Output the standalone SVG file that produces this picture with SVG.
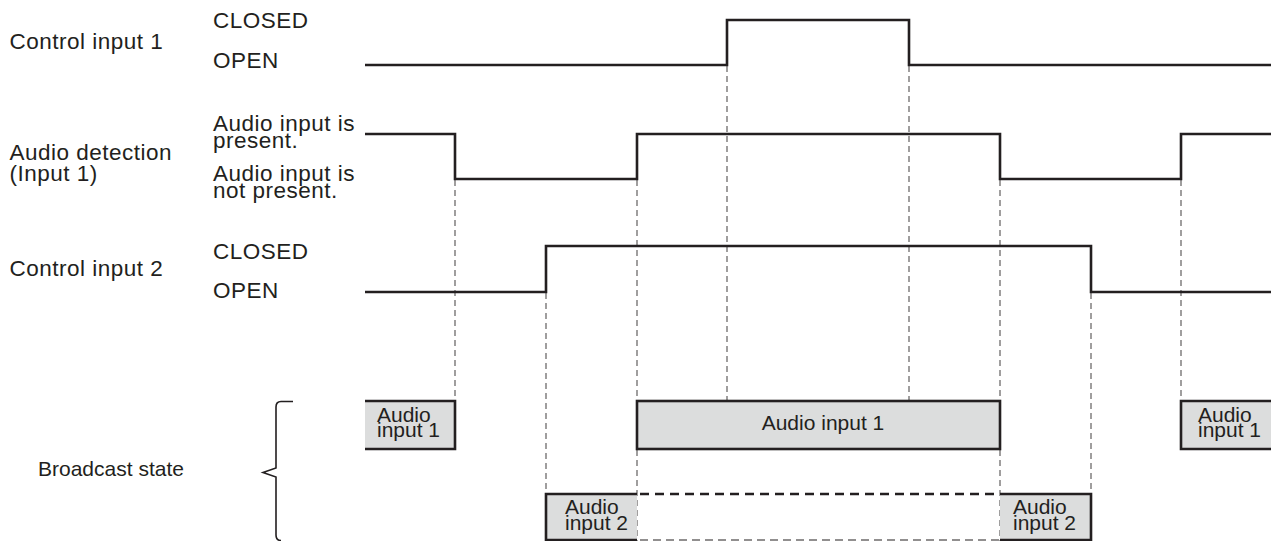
<svg xmlns="http://www.w3.org/2000/svg" width="1274" height="541" viewBox="0 0 1274 541">
<style>
text{font-family:"Liberation Sans",Arial,Helvetica,sans-serif;fill:#231f20}
.lbl{font-size:22.5px;letter-spacing:0.5px}
.bs{font-size:21px}
.bx{font-size:21px}
.sig{fill:none;stroke:#231f20;stroke-width:2.6;stroke-linejoin:miter}
.guide{fill:none;stroke:#6d6b6b;stroke-width:1.3;stroke-dasharray:6 4}
.fill{fill:#dcdddd;stroke:none}
.edge{fill:none;stroke:#231f20;stroke-width:2.6}
.dtop{fill:none;stroke:#231f20;stroke-width:2.6;stroke-dasharray:9 6}
.dbot{fill:none;stroke:#6d6b6b;stroke-width:1.3;stroke-dasharray:8 5}
</style>
<rect width="1274" height="541" fill="#ffffff"/>
<g id="connectors">
<line class="guide" x1="455" y1="180" x2="455" y2="401"/>
<line class="guide" x1="546" y1="293" x2="546" y2="494"/>
<line class="guide" x1="637" y1="180" x2="637" y2="541"/>
<line class="guide" x1="727" y1="66" x2="727" y2="401"/>
<line class="guide" x1="909" y1="66" x2="909" y2="401"/>
<line class="guide" x1="1000" y1="180" x2="1000" y2="541"/>
<line class="guide" x1="1091" y1="293" x2="1091" y2="494"/>
<line class="guide" x1="1181" y1="180" x2="1181" y2="401"/>
</g>
<g id="control1">
<text class="lbl" x="9.5" y="48.5">Control input 1</text>
<text class="lbl" x="213" y="28">CLOSED</text>
<text class="lbl" x="213" y="68">OPEN</text>
<path class="sig" d="M365,65 H727 V20 H909 V65 H1271"/>
</g>
<g id="audio-detection">
<text class="lbl" x="9.5" y="159.5">Audio detection<tspan x="9.5" dy="21.5">(Input 1)</tspan></text>
<text class="lbl" x="213" y="131">Audio input is<tspan x="213" dy="16.5">present.</tspan></text>
<text class="lbl" x="213" y="181">Audio input is<tspan x="213" dy="16.5">not present.</tspan></text>
<path class="sig" d="M365,134 H455 V179 H637 V134 H1000 V179 H1181 V134 H1271"/>
</g>
<g id="control2">
<text class="lbl" x="9.5" y="276">Control input 2</text>
<text class="lbl" x="213" y="258.5">CLOSED</text>
<text class="lbl" x="213" y="297.5">OPEN</text>
<path class="sig" d="M365,292 H546 V246 H1091 V292 H1271"/>
</g>
<g id="broadcast-state">
<text class="bs" x="38" y="476">Broadcast state</text>
<path fill="none" stroke="#231f20" stroke-width="1.6" d="M293,401.5 H281 Q276,401.5 276,407 V468 L263,472.5 L276,477 V535 Q276,540.5 281,540.5"/>
</g>
<g id="box-audio1-a">
<rect class="fill" x="365" y="401" width="90" height="48"/>
<path class="edge" d="M365,401 H455 V449 H365"/>
<text class="bx" x="377" y="421.5">Audio<tspan x="377" dy="15.5">input 1</tspan></text>
</g>
<g id="box-audio1-b">
<rect class="fill" x="637" y="401" width="363" height="48"/>
<rect class="edge" x="637" y="401" width="363" height="48"/>
<text class="bx" x="823" y="430" text-anchor="middle">Audio input 1</text>
</g>
<g id="box-audio1-c">
<rect class="fill" x="1181" y="401" width="90" height="48"/>
<path class="edge" d="M1271,401 H1181 V449 H1271"/>
<text class="bx" x="1198" y="421.5">Audio<tspan x="1198" dy="15.5">input 1</tspan></text>
</g>
<g id="box-audio2-a">
<rect class="fill" x="546" y="494" width="91" height="47"/>
<path class="edge" d="M637,494 H546 V540 H637"/>
<text class="bx" x="565" y="513.5">Audio<tspan x="565" dy="16">input 2</tspan></text>
</g>
<g id="box-audio2-gap">
<line class="dtop" x1="640" y1="494" x2="1000" y2="494"/>
<line class="dbot" x1="640" y1="540" x2="1000" y2="540"/>
</g>
<g id="box-audio2-b">
<rect class="fill" x="1000" y="494" width="91" height="47"/>
<path class="edge" d="M1000,494 H1091 V540 H1000"/>
<text class="bx" x="1013" y="513.5">Audio<tspan x="1013" dy="16">input 2</tspan></text>
</g>
</svg>
